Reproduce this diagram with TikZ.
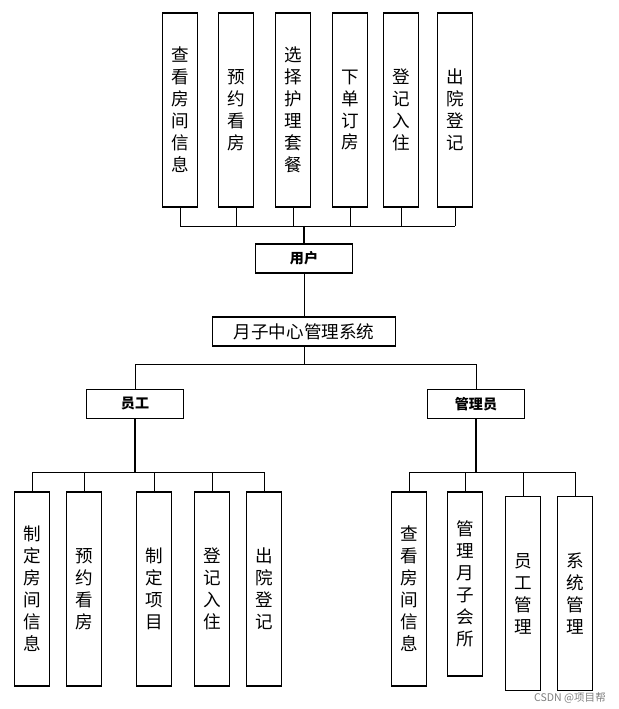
\documentclass[tikz,border=0pt]{standalone}
\usepackage{fontspec}
\setmainfont{Noto Sans CJK SC}
\usetikzlibrary{positioning}
\tikzset{
  vbox/.style={draw, thick, minimum width=0.70cm, minimum height=3.88cm, inner sep=0pt, align=center, font=\fontsize{10}{12.5}\selectfont},
  hbox/.style={draw, thick, minimum height=0.58cm, inner sep=0pt, font=\fontsize{8}{9}\selectfont\bfseries},
  link/.style={thin}
}
\begin{document}
\begin{tikzpicture}[x=0.02cm,y=-0.02cm]
\useasboundingbox (0,0) rectangle (618,709);
% top row
\node[vbox] (t1) at (180,110) {查\\看\\房\\间\\信\\息};
\node[vbox] (t2) at (236,110) {预\\约\\看\\房};
\node[vbox] (t3) at (293,110) {选\\择\\护\\理\\套\\餐};
\node[vbox] (t4) at (350,110) {下\\单\\订\\房};
\node[vbox] (t5) at (401,110) {登\\记\\入\\住};
\node[vbox] (t6) at (455,110) {出\\院\\登\\记};
\coordinate (tj) at (304,226);
\foreach \n in {t1,t2,t3,t4,t5,t6}
  \draw[link] (\n.south) -- (\n.south |- tj);
\draw[link] (t1.south |- tj) -- (t6.south |- tj);
\node[hbox, minimum width=1.94cm] (user) at (304,258.5) {用户};
\draw[line width=1.2pt] (tj) -- (user);
\node[draw, thick, minimum width=3.66cm, minimum height=0.58cm, inner sep=0pt, font=\fontsize{10}{12}\selectfont] (sys) at (304,331.5) {月子中心管理系统};
\draw[link] (user) -- (sys);
% second level
\node[hbox, minimum width=1.94cm] (staff) at (135,404) {员工};
\node[hbox, minimum width=1.94cm] (admin) at (476,404) {管理员};
\coordinate (sj) at (304,364);
\draw[link] (sys) -- (sj);
\draw[link] (staff) -- (staff |- sj) -- (admin |- sj) -- (admin);
% staff tasks
\node[vbox] (s1) at (32,589) {制\\定\\房\\间\\信\\息};
\node[vbox] (s2) at (84,589) {预\\约\\看\\房};
\node[vbox] (s3) at (154,589) {制\\定\\项\\目};
\node[vbox] (s4) at (212,589) {登\\记\\入\\住};
\node[vbox] (s5) at (264,589) {出\\院\\登\\记};
\coordinate (lj) at (135,472);
\draw[line width=1.2pt] (staff) -- (lj);
\draw[link] (s1.north |- lj) -- (s5.north |- lj);
\foreach \n in {s1,s2,s3,s4,s5}
  \draw[link] (\n.north |- lj) -- (\n.north);
% admin tasks
\node[vbox] (a1) at (409,589) {查\\看\\房\\间\\信\\息};
\node[vbox, minimum height=3.68cm] (a2) at (465,584) {管\\理\\月\\子\\会\\所};
\node[vbox] (a3) at (523,593.5) {员\\工\\管\\理};
\node[vbox] (a4) at (575,593.5) {系\\统\\管\\理};
\coordinate (rj) at (476,472);
\draw[line width=1.2pt] (admin) -- (rj);
\draw[link] (a1.north |- rj) -- (a4.north |- rj);
\foreach \n in {a1,a2,a3,a4}
  \draw[link] (\n.north |- rj) -- (\n.north);
\node[text=gray, font=\fontsize{6}{7}\selectfont, anchor=east] (mark) at (612,698) {CSDN @项目帮};
\end{tikzpicture}
\end{document}
